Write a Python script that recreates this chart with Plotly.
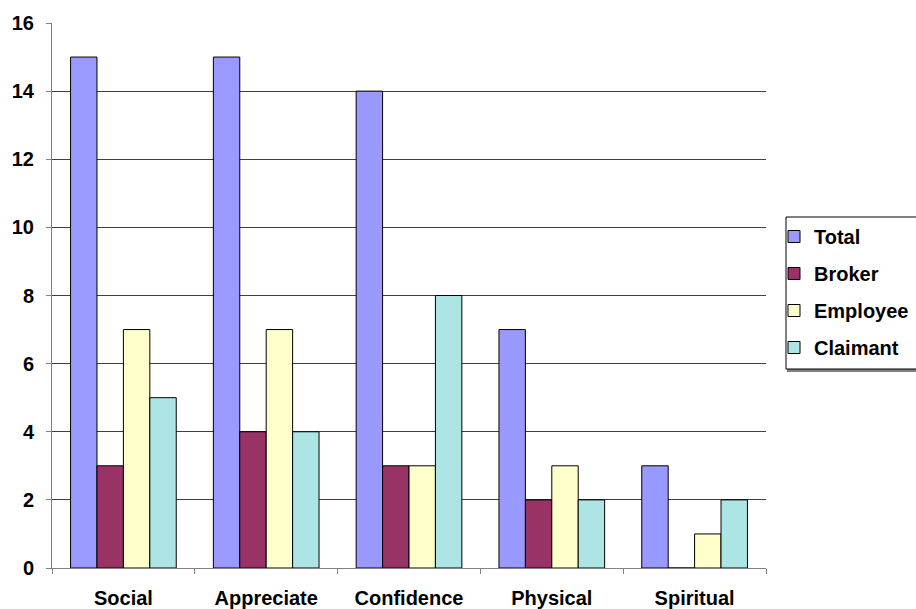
import plotly.graph_objects as go

categories = ["Social", "Appreciate", "Confidence", "Physical", "Spiritual"]
total = [15, 15, 14, 7, 3]
broker = [3, 4, 3, 2, 0]
employee = [7, 7, 3, 3, 1]
claimant = [5, 4, 8, 2, 2]

series = [
    ("Total", total, "#9999FF"),
    ("Broker", broker, "#993366"),
    ("Employee", employee, "#FFFFCC"),
    ("Claimant", claimant, "#ADE5E5"),
]

font_family = "Liberation Sans, Arial, sans-serif"
W, H = 916, 609
M = dict(l=52, r=150, t=23, b=41)
plot_w = W - M["l"] - M["r"]
plot_h = H - M["t"] - M["b"]


def px_x(p):
    return (p - M["l"]) / plot_w


def px_y(p):
    return 1 - (p - M["t"]) / plot_h


fig = go.Figure()
for i, (name, vals, color) in enumerate(series):
    fig.add_trace(go.Bar(
        name=name, x=categories, y=vals,
        marker=dict(color=color, line=dict(color="#000000", width=1)),
        legendgroup=f"g{i}",
    ))

# legend frame (runs off the right edge of the page), with a soft shadow
fig.add_shape(type="rect", xref="paper", yref="paper",
              x0=px_x(788), x1=px_x(925), y0=px_y(371), y1=px_y(219),
              line=dict(color="#808080", width=2), fillcolor="#808080", layer="below")
fig.add_shape(type="rect", xref="paper", yref="paper",
              x0=px_x(786), x1=px_x(925), y0=px_y(369), y1=px_y(217),
              line=dict(color="#000000", width=1), fillcolor="white", layer="below")

fig.update_layout(
    width=W, height=H,
    margin=dict(**M, autoexpand=False),
    paper_bgcolor="white", plot_bgcolor="white",
    barmode="group", bargap=0.26, bargroupgap=0,
    font=dict(family=font_family, size=20, color="#000000", weight="bold"),
    legend=dict(
        x=px_x(774), y=px_y(217), xanchor="left", yanchor="top",
        bgcolor="rgba(0,0,0,0)", borderwidth=0,
        font=dict(family=font_family, size=20, color="#000000", weight="bold"),
        tracegroupgap=8, itemwidth=30,
    ),
    xaxis=dict(
        showline=True, linecolor="#808080", linewidth=1,
        ticks="outside", tickson="boundaries", ticklen=5, tickcolor="#808080",
        ticklabelstandoff=12,
        showgrid=False,
        tickfont=dict(family=font_family, size=20, weight="bold"),
    ),
    yaxis=dict(
        range=[0, 16], dtick=2,
        showline=True, linecolor="#808080", linewidth=1,
        ticks="outside", ticklen=5, tickcolor="#808080",
        ticklabelstandoff=8,
        showgrid=True, gridcolor="#404040", gridwidth=1,
        zeroline=False,
        tickfont=dict(family=font_family, size=20, weight="bold"),
    ),
    showlegend=True,
)

fig.write_html("out.html")
